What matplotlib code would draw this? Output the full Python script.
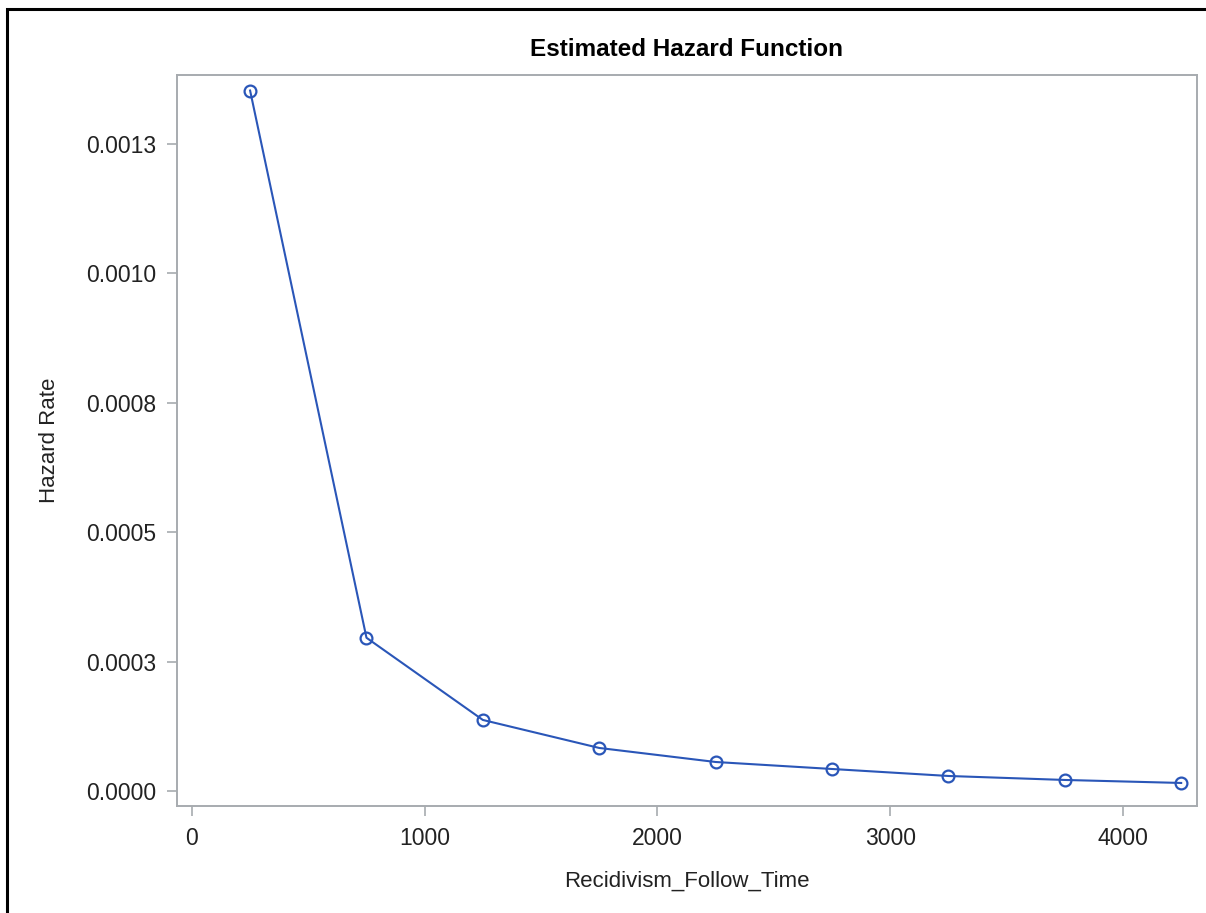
import matplotlib.pyplot as plt
from matplotlib.patches import Rectangle

# Data
follow_time = [250, 750, 1250, 1750, 2250, 2750, 3250, 3750, 4250]
hazard_rate = [0.001353, 0.000296, 0.0001372, 0.0000831, 0.0000560,
               0.0000425, 0.0000290, 0.0000213, 0.0000155]
y_ticks = [0.0, 0.00025, 0.0005, 0.00075, 0.0010, 0.00125]
y_tick_labels = ['0.0000', '0.0003', '0.0005', '0.0008', '0.0010', '0.0013']
x_ticks = [0, 1000, 2000, 3000, 4000]

plt.rcParams['font.family'] = ['Liberation Sans', 'DejaVu Sans']

W, H = 1206, 913
fig = plt.figure(figsize=(W / 100, H / 100), dpi=100)
ax = fig.add_axes([177 / W, 1 - 806 / H, (1197 - 177) / W, (806 - 75) / H])

line_col = '#2A56B8'
ax.plot(follow_time, hazard_rate, color=line_col, linewidth=1.5,
        marker='o', markersize=8.5, markerfacecolor='none',
        markeredgecolor=line_col, markeredgewidth=1.6)

ax.set_xlim(-64, 4318)
ax.set_ylim(-0.000029, 0.001383)
ax.set_xticks(x_ticks)
ax.set_yticks(y_ticks)
ax.set_yticklabels(y_tick_labels)

spine_col = '#A7ABAF'
for s in ax.spines.values():
    s.set_color(spine_col)
    s.set_linewidth(1.4)
ax.tick_params(axis='both', colors=spine_col, labelcolor='#222222',
               length=7, width=1.2, labelsize=16.5, pad=8)

ax.set_title('Estimated Hazard Function', fontsize=17.5, fontweight='bold', pad=14)
ax.set_ylabel('Hazard Rate', fontsize=16, color='#222222', labelpad=19)
ax.set_xlabel('Recidivism_Follow_Time', fontsize=16, color='#222222', labelpad=15)

# outer black frame (cropped on right and bottom in the reference)
fig.patches.append(Rectangle((7 / W, -0.1), 1.2, 1.1 - 9 / H, transform=fig.transFigure,
                             fill=False, edgecolor='black', linewidth=2.2))

fig.savefig('out.png', dpi=100)
